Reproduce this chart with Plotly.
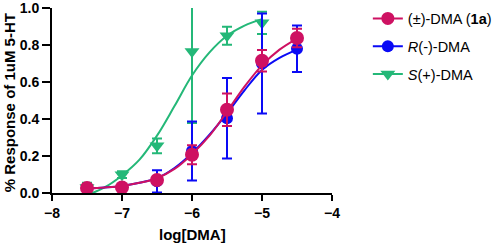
import plotly.graph_objects as go

# ---- data ----
log_conc = [-7.5, -7.0, -6.5, -6.0, -5.5, -5.0, -4.5]
rac_mean = [0.027, 0.030, 0.070, 0.207, 0.450, 0.715, 0.838]
rac_err = [0.010, 0.010, 0.020, 0.051, 0.088, 0.058, 0.050]
r_mean = [0.027, 0.030, 0.063, 0.227, 0.404, 0.700, 0.780]
r_err = [0.010, 0.010, 0.060, 0.160, 0.217, 0.270, 0.126]
s_conc = [-7.5, -7.0, -6.5, -6.0, -5.5, -5.0]
s_mean = [0.030, 0.099, 0.255, 0.765, 0.850, 0.920]
s_err = [0.025, 0.018, 0.040, 0.387, 0.048, 0.060]

# fitted curves
fit_x = [-7.5, -7.25, -7.0, -6.75, -6.5, -6.25, -6.0, -5.75, -5.5, -5.25, -5.0, -4.75, -4.5]
rac_fit = [0.025, 0.030, 0.038, 0.055, 0.080, 0.130, 0.210, 0.310, 0.440, 0.575, 0.690, 0.775, 0.835]
r_fit = [0.025, 0.030, 0.038, 0.055, 0.080, 0.135, 0.215, 0.315, 0.430, 0.555, 0.665, 0.730, 0.775]
s_fit_x = [-7.5, -7.25, -7.0, -6.75, -6.5, -6.25, -6.0, -5.75, -5.5, -5.25, -5.0]
s_fit = [-0.012, 0.030, 0.095, 0.180, 0.310, 0.470, 0.635, 0.760, 0.850, 0.905, 0.940]

x_ticks = [-8, -7, -6, -5, -4]
y_ticks = [0.0, 0.2, 0.4, 0.6, 0.8, 1.0]

names = ["(\u00b1)-DMA (<b>1a</b>)", "<i>R</i>(-)-DMA", "<i>S</i>(+)-DMA"]
x_title = "log[DMA]"
y_title = "% Response of 1uM 5-HT"

RED = "#CE1162"
BLUE = "#0A0AF5"
GREEN = "#24B878"
FONT = "Liberation Sans, Arial, sans-serif"

fig = go.Figure()

def add_series(cx, cy, px, py, pe, color, symbol, size):
    fig.add_trace(go.Scatter(x=cx, y=cy, mode="lines", line=dict(color=color, width=2, shape="spline"),
                             showlegend=False, hoverinfo="skip"))
    fig.add_trace(go.Scatter(x=px, y=py, mode="markers",
                             marker=dict(color=color, symbol=symbol, size=size, line=dict(width=0)),
                             error_y=dict(type="data", array=pe, visible=True, color=color,
                                          thickness=2, width=5),
                             showlegend=False))

# draw order: green, blue, red (red on top)
add_series(s_fit_x, s_fit, s_conc, s_mean, s_err, GREEN, "triangle-down", 13)
add_series(fit_x, r_fit, log_conc, r_mean, r_err, BLUE, "circle", 12)
add_series(fit_x, rac_fit, log_conc, rac_mean, rac_err, RED, "circle", 14)

# legend entries
for i, (name, color, symbol, size) in enumerate([(names[0], RED, "circle", 13), (names[1], BLUE, "circle", 12),
                                                 (names[2], GREEN, "triangle-down", 13)]):
    fig.add_trace(go.Scatter(x=[None], y=[None], mode="lines+markers", name=name, legendgroup=f"g{i}",
                             line=dict(color=color, width=2),
                             marker=dict(color=color, symbol=symbol, size=size)))

axis_common = dict(showgrid=False, zeroline=False, showline=True, linecolor="black", linewidth=2,
                   ticks="outside", tickcolor="black", tickwidth=2, ticklabeloverflow="allow",
                   tickfont=dict(family=FONT, size=14, color="black", weight="bold"))

fig.update_layout(
    width=498, height=245,
    margin=dict(l=52, r=166, t=8, b=52, autoexpand=False),
    paper_bgcolor="white", plot_bgcolor="white",
    font=dict(family=FONT, color="black"),
    xaxis=dict(range=[-8, -4], tickvals=x_ticks, ticklen=6, automargin=False, **axis_common),
    yaxis=dict(range=[0, 1], tickvals=y_ticks, tickformat=".1f", ticklen=8, automargin=False, **axis_common),
    legend=dict(x=1.128, y=1.03, xanchor="left", yanchor="top",
                font=dict(family=FONT, size=14.5, color="black"),
                bgcolor="rgba(0,0,0,0)", tracegroupgap=6),
    annotations=[
        dict(text=x_title, xref="paper", yref="paper", x=0.5, y=-0.227, xanchor="center", yanchor="middle",
             showarrow=False, font=dict(family=FONT, size=15, color="black", weight="bold")),
        dict(text=y_title, xref="paper", yref="paper", x=-0.154, y=0.49, xanchor="center", yanchor="middle",
             textangle=-90, showarrow=False, font=dict(family=FONT, size=15, color="black", weight="bold")),
    ],
)

fig.write_html("out.html", config={"displayModeBar": False},
               post_script="document.body.style.margin='0px';")
